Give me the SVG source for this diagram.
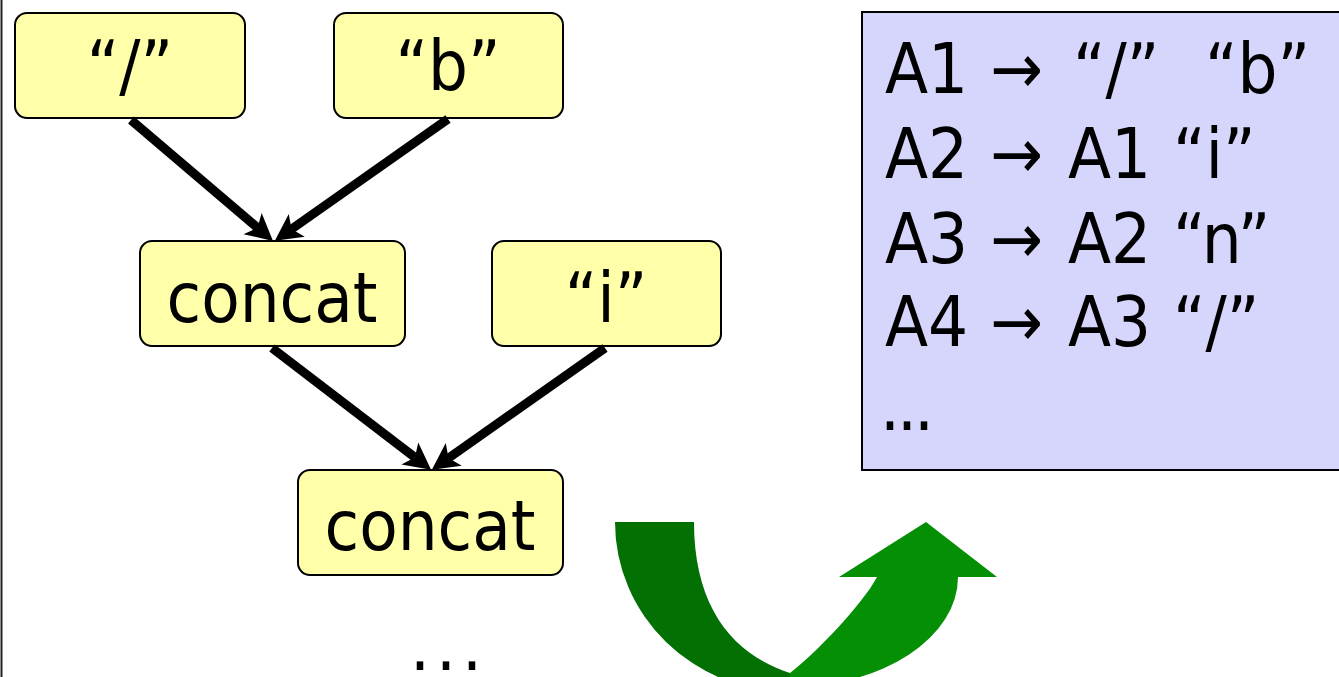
<svg xmlns="http://www.w3.org/2000/svg" width="1339" height="677" viewBox="0 0 1339 677">
  <defs>
    <style>
      .box { fill: #ffffaa; stroke: #000; stroke-width: 2; }
      .lbl { font-family: "DejaVu Sans Condensed", "DejaVu Sans", sans-serif; font-size: 70px; fill: #000; text-anchor: middle; }
      .rule { font-family: "DejaVu Sans Condensed", "DejaVu Sans", sans-serif; font-size: 70px; fill: #000; }
      .edge { stroke: #000; stroke-width: 9; fill: none; marker-end: url(#head); }
    </style>
    <marker id="head" markerUnits="userSpaceOnUse" markerWidth="30" markerHeight="30" viewBox="0 -14 28 28" refX="6" refY="0" orient="auto">
      <path d="M0,-13 L25,0 L0,13 L6,0 Z" fill="#000"/>
    </marker>
  </defs>

  <rect width="1339" height="677" fill="#fff"/>
  <line x1="1.5" y1="0" x2="1.5" y2="677" stroke="#222" stroke-width="2"/>

  <!-- expression tree -->
  <g id="node-slash">
    <rect class="box" x="15" y="13" width="230" height="105" rx="12"/>
    <text class="lbl" x="130" y="90">“/”</text>
  </g>
  <g id="node-b">
    <rect class="box" x="334" y="13" width="229" height="105" rx="12"/>
    <text class="lbl" x="448" y="90">“b”</text>
  </g>
  <g id="node-concat1">
    <rect class="box" x="140" y="241" width="265" height="105" rx="12"/>
    <text class="lbl" x="272" y="322">concat</text>
  </g>
  <g id="node-i">
    <rect class="box" x="492" y="241" width="229" height="105" rx="12"/>
    <text class="lbl" x="606" y="322">“i”</text>
  </g>
  <g id="node-concat2">
    <rect class="box" x="298" y="470" width="265" height="105" rx="12"/>
    <text class="lbl" x="430" y="550">concat</text>
  </g>
  <g id="more-tree">
    <text class="rule" x="410" y="670" letter-spacing="6">...</text>
  </g>

  <g id="connectors">
    <line class="edge" x1="131" y1="120" x2="257.5" y2="227.7"/>
    <line class="edge" x1="448" y1="119" x2="291.5" y2="229.1"/>
    <line class="edge" x1="272" y1="348" x2="414.9" y2="457.4"/>
    <line class="edge" x1="605" y1="348" x2="448.5" y2="458.1"/>
  </g>

  <!-- grammar rules -->
  <g id="grammar">
    <rect x="862" y="12" width="490" height="458" fill="#d6d6fc" stroke="#000" stroke-width="2"/>
    <g class="rule">
      <text x="885" y="93">A1</text><text x="990" y="93">→</text><text x="1073" y="93">“/”</text><text x="1205" y="93">“b”</text>
      <text x="885" y="178">A2</text><text x="990" y="178">→</text><text x="1068" y="178">A1</text><text x="1173" y="178">“i”</text>
      <text x="885" y="263">A3</text><text x="990" y="263">→</text><text x="1068" y="263">A2</text><text x="1173" y="263">“n”</text>
      <text x="885" y="346">A4</text><text x="990" y="346">→</text><text x="1068" y="346">A3</text><text x="1173" y="346">“/”</text>
      <text x="880" y="430" letter-spacing="-3">...</text>
    </g>
  </g>

  <!-- curved transform arrow -->
  <g id="transform-arrow">
    <path d="M615,522 L694,522 C694,610 735,655 790,673 L790,692 A175,170 0 0 1 615,522 Z" fill="#037003"/>
    <path d="M790,673 C814,655 863,604 877,577 L839,577 L926,522 L997,577 L958,577 A168,110 0 0 1 790,687 Z" fill="#058f05"/>
  </g>
</svg>
